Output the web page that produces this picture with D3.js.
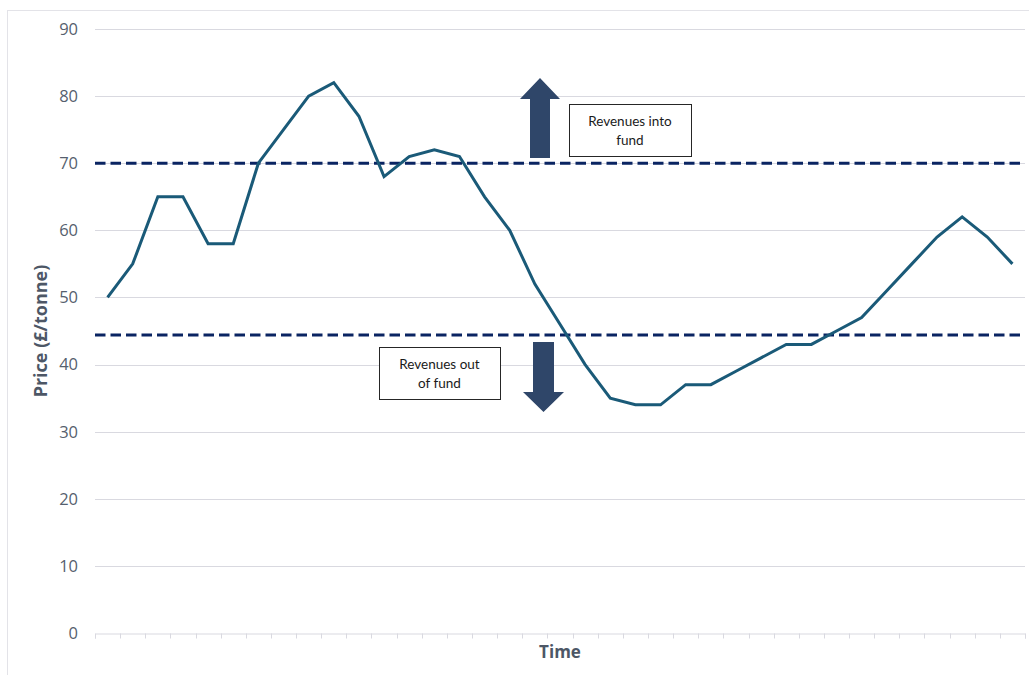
<!DOCTYPE html>
<html>
<head>
<meta charset="utf-8">
<script src="https://cdn.jsdelivr.net/npm/d3@7/dist/d3.min.js"></script>
<style>
  html, body { margin: 0; padding: 0; background: #ffffff; }
  svg { display: block; }
</style>
</head>
<body>
<svg id="chart" width="1029" height="675"></svg>
<script>
// Time periods (unlabelled on the axis) and the carbon price in each
const periods = d3.range(1, 38).map(String);
const prices = [50, 55, 65, 65, 58, 58, 70, 75, 80, 82, 77, 68, 71, 72, 71, 65, 60, 52, 46, 40,
                35, 34, 34, 37, 37, 39, 41, 43, 43, 45, 47, 51, 55, 59, 62, 59, 55];
// Price corridor: upper and lower trigger levels
const thresholds = [70, 44.4];
const yTicks = [0, 10, 20, 30, 40, 50, 60, 70, 80, 90];
const boxLabels = [["Revenues into", "fund"], ["Revenues out", "of fund"]];

const svg = d3.select("#chart");
const plot = { left: 95, right: 1025, top: 29, bottom: 633 };

const x = d3.scaleBand().domain(periods).range([plot.left, plot.right]).paddingInner(0).paddingOuter(0);
const y = d3.scaleLinear().domain([0, 90]).range([plot.bottom, plot.top]);
const cx = p => x(p) + x.bandwidth() / 2;

const axisColor = "#d9d9e0";
const textColor = "#4d5766";
const font = "'Open Sans', 'DejaVu Sans', sans-serif";

// outer frame
svg.append("rect")
  .attr("x", 7.5).attr("y", 10.5)
  .attr("width", 1030).attr("height", 670)
  .attr("fill", "none").attr("stroke", "#e3e3e8").attr("stroke-width", 1);

// horizontal gridlines (above zero)
svg.append("g").selectAll("line")
  .data(yTicks.filter(t => t > 0))
  .join("line")
  .attr("x1", plot.left).attr("x2", plot.right)
  .attr("y1", d => Math.round(y(d)) + 0.5).attr("y2", d => Math.round(y(d)) + 0.5)
  .attr("stroke", axisColor).attr("stroke-width", 1);

// y axis labels
svg.append("g").selectAll("text")
  .data(yTicks)
  .join("text")
  .attr("x", 78).attr("y", d => y(d))
  .attr("dy", "0.36em")
  .attr("text-anchor", "end")
  .attr("font-family", font).attr("font-size", 16.5)
  .attr("fill", "#565f6e")
  .text(d => d);

// x axis with tick marks at category boundaries
const xAxis = d3.axisBottom(x).tickSize(5).tickFormat("");
const gx = svg.append("g").attr("transform", `translate(0,${Math.round(y(0)) + 0.5})`).call(xAxis);
gx.select(".domain").attr("stroke", axisColor);
gx.selectAll(".tick").remove();
gx.selectAll(".bound")
  .data(d3.range(periods.length + 1))
  .join("line")
  .attr("class", "bound")
  .attr("x1", i => Math.round(plot.left + i * x.step()) + 0.5)
  .attr("x2", i => Math.round(plot.left + i * x.step()) + 0.5)
  .attr("y1", 0).attr("y2", 5)
  .attr("stroke", axisColor);

// dashed threshold lines
svg.append("g").selectAll("line")
  .data(thresholds)
  .join("line")
  .attr("x1", plot.left).attr("x2", plot.right)
  .attr("y1", d => y(d)).attr("y2", d => y(d))
  .attr("stroke", "#0a2462").attr("stroke-width", 3)
  .attr("stroke-dasharray", "10.5,5");

// price line
const line = d3.line().x((d, i) => cx(periods[i])).y(d => y(d));
svg.append("path")
  .datum(prices)
  .attr("d", line)
  .attr("fill", "none")
  .attr("stroke", "#1a5a78")
  .attr("stroke-width", 3)
  .attr("stroke-linejoin", "miter");

// block arrows
const arrowColor = "#2f4669";
function blockArrow(cxA, yTail, yTip, shaftW, headW, headLen) {
  const dir = yTip < yTail ? -1 : 1;
  const yBase = yTip - dir * headLen;
  const pts = [
    [cxA - shaftW / 2, yTail], [cxA - shaftW / 2, yBase], [cxA - headW / 2, yBase],
    [cxA, yTip], [cxA + headW / 2, yBase], [cxA + shaftW / 2, yBase], [cxA + shaftW / 2, yTail]
  ];
  svg.append("polygon")
    .attr("points", pts.map(p => p.join(",")).join(" "))
    .attr("fill", arrowColor);
}
blockArrow(540, 158, 78, 20, 40, 21);
blockArrow(543.5, 342, 412, 21, 41, 20);

// annotation boxes
function textBox(x0, y0, w, h, lines) {
  const g = svg.append("g");
  g.append("rect")
    .attr("x", x0 + 0.5).attr("y", y0 + 0.5).attr("width", w).attr("height", h)
    .attr("fill", "#ffffff").attr("stroke", "#262626").attr("stroke-width", 1);
  g.selectAll("text")
    .data(lines)
    .join("text")
    .attr("x", x0 + w / 2)
    .attr("y", (d, i) => y0 + h / 2 - 9 + i * 19)
    .attr("dy", "0.35em")
    .attr("text-anchor", "middle")
    .attr("font-family", "Lato, 'Liberation Sans', sans-serif")
    .attr("font-size", 13.5)
    .attr("fill", "#1a1a1a")
    .text(d => d);
}
textBox(569, 104, 122, 52, boxLabels[0]);
textBox(379, 347, 121, 52, boxLabels[1]);

// axis titles
svg.append("text")
  .attr("transform", "translate(47,331) rotate(-90)")
  .attr("text-anchor", "middle")
  .attr("font-family", font).attr("font-size", 18).attr("font-weight", "bold")
  .attr("fill", textColor)
  .text("Price (£/tonne)");

svg.append("text")
  .attr("x", 560).attr("y", 658)
  .attr("text-anchor", "middle")
  .attr("font-family", font).attr("font-size", 17).attr("font-weight", "bold")
  .attr("fill", textColor)
  .text("Time");
</script>
</body>
</html>
